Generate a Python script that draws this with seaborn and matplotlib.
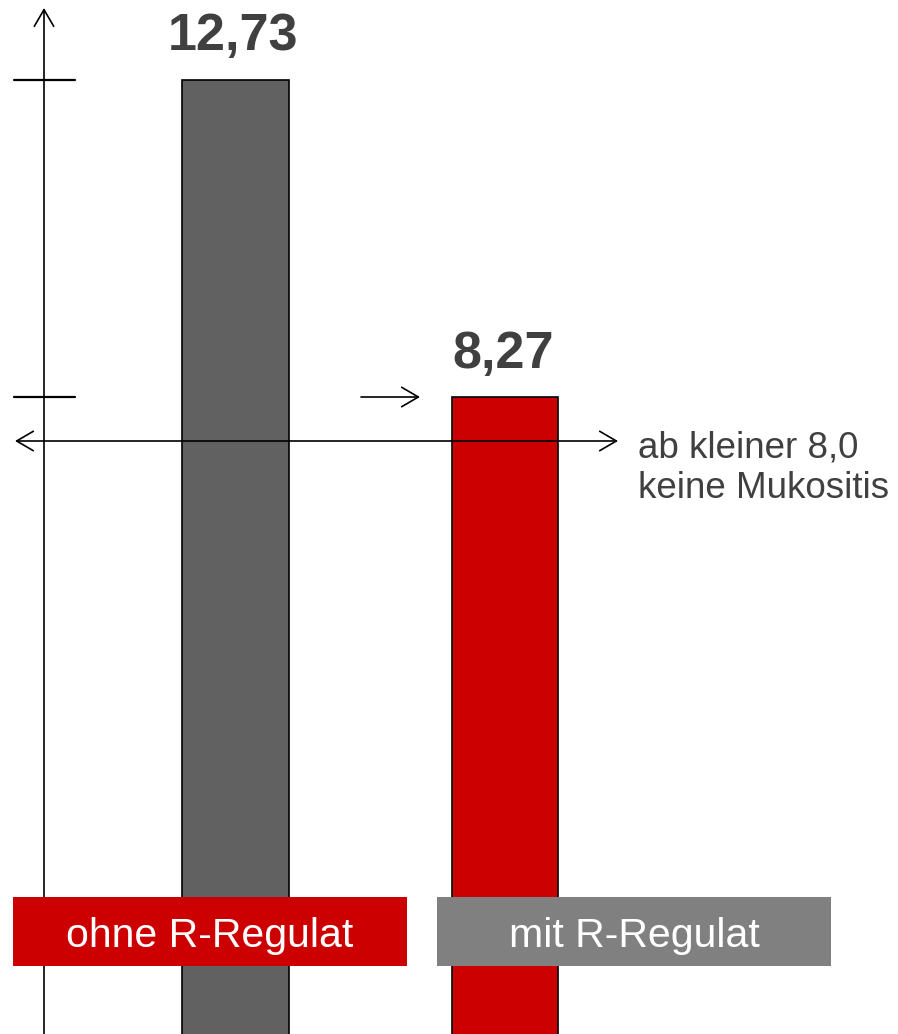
import matplotlib
matplotlib.use("Agg")
import matplotlib.pyplot as plt
import seaborn as sns
from matplotlib.patches import Rectangle
from matplotlib.transforms import blended_transform_factory

# Data
groups = ["ohne R-Regulat", "mit R-Regulat"]
values = [12.73, 8.27]
bar_colors = ["#616161", "#cc0000"]
box_colors = ["#cc0000", "#808080"]
note_text = "ab kleiner 8,0\nkeine Mukositis"

sns.set_style("white")
plt.rcParams["font.family"] = ["Liberation Sans", "DejaVu Sans"]

W, H = 898, 1034
fig = plt.figure(figsize=(W / 100, H / 100), dpi=100)
ax = fig.add_axes([0, 0, 1, 1])

sns.barplot(x=groups, y=values, hue=groups, palette=bar_colors, legend=False,
            width=0.397, edgecolor="black", linewidth=1.2, saturation=1, ax=ax)

# scale: px per unit from the two bar tops
ppu = 71.19
top_px = 79.5
y_top = values[0] + top_px / ppu
y_bot = values[0] - (H - top_px) / ppu
ax.set_ylim(y_bot, y_top)
ax.set_xlim(-235.5 / 269.5, (W - 235.5) / 269.5)
ax.axis("off")

# let bars run off the bottom edge
for p in ax.patches:
    h = p.get_y() + p.get_height()
    p.set_y(y_bot - 1)
    p.set_height(h - (y_bot - 1))


def fx(px):
    return px / W


def fy(py):
    return 1 - py / H


# value labels
for i, v in enumerate(values):
    ax.annotate(f"{v:.2f}".replace(".", ","), xy=(i, v), xytext=(-1.5, 21),
                textcoords="offset points", ha="center", va="baseline",
                fontsize=37.5, fontweight="bold", color="#404040")

arrow = dict(arrowstyle="->,head_length=0.6,head_width=0.35", mutation_scale=20,
             lw=1.2, color="black", shrinkA=0, shrinkB=0)
arrow2 = dict(arrow, arrowstyle="<->,head_length=0.6,head_width=0.35")

# vertical axis with arrow
ax.annotate("", xy=(fx(44), fy(8)), xytext=(fx(44), fy(H + 5)),
            xycoords="axes fraction", arrowprops=arrow)

# tick marks at the bar values
trans = blended_transform_factory(ax.transAxes, ax.transData)
for v in values:
    ax.plot([fx(14), fx(75)], [v, v], color="black", lw=1.6, transform=trans)

# threshold double arrow
ax.annotate("", xy=(fx(618), fy(441)), xytext=(fx(15), fy(441)),
            xycoords="axes fraction", arrowprops=arrow2)

# small arrow pointing at second bar
ax.annotate("", xy=(fx(420), fy(397)), xytext=(fx(361), fy(397)),
            xycoords="axes fraction", arrowprops=arrow)

ax.text(fx(638), fy(498), note_text, transform=ax.transAxes, ha="left", va="baseline",
        fontsize=26.5, color="#404040", linespacing=1.2)

# category boxes
box_x = [13, 437]
for bx, name, c in zip(box_x, groups, box_colors):
    ax.add_patch(Rectangle((fx(bx), fy(966)), 394 / W, 69 / H, transform=ax.transAxes,
                           facecolor=c, edgecolor="none", zorder=5))
    ax.text(fx(bx + 197), fy(947), name, transform=ax.transAxes, ha="center",
            va="baseline", fontsize=29.5, color="white", zorder=6)

fig.savefig("out.png", dpi=100)
